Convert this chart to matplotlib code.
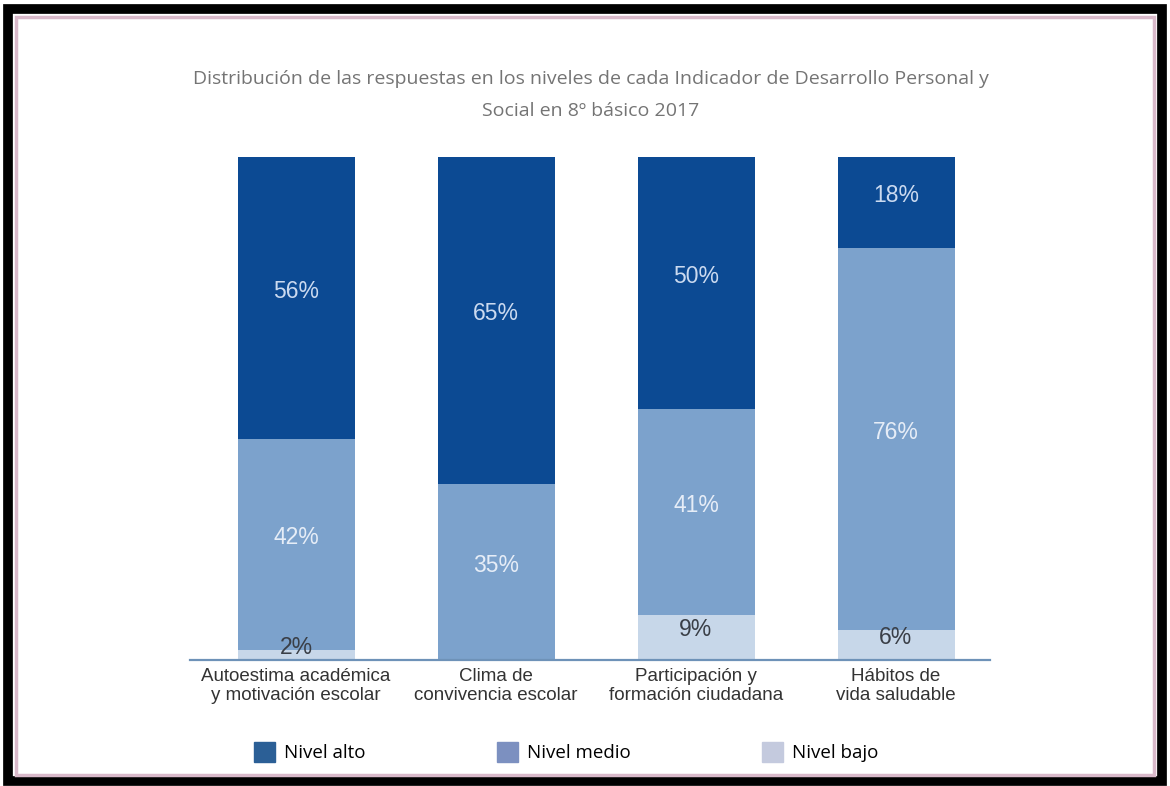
import matplotlib.pyplot as plt
from matplotlib.patches import Patch, Rectangle

categorias = ["Autoestima académica\ny motivación escolar",
              "Clima de\nconvivencia escolar",
              "Participación y\nformación ciudadana",
              "Hábitos de\nvida saludable"]
alto = [56, 65, 50, 18]
medio = [42, 35, 41, 76]
bajo = [2, 0, 9, 6]
niveles = ["Nivel alto", "Nivel medio", "Nivel bajo"]

c_alto = "#0c4a93"
c_medio = "#7ca2cc"
c_bajo = "#c7d7e9"

fig = plt.figure(figsize=(11.7, 7.86), dpi=100)
fig.patch.set_facecolor("white")

# marco negro + linea rosada
fig.patches.append(Rectangle((0.007, 0.006), 0.986, 0.982, transform=fig.transFigure,
                             fill=False, edgecolor="black", linewidth=7))
fig.patches.append(Rectangle((0.0135, 0.0135), 0.973, 0.965, transform=fig.transFigure,
                             fill=False, edgecolor="#d9b9ca", linewidth=2.5))

ax = fig.add_axes([190 / 1170, 1 - 660 / 786, 800 / 1170, 503 / 786])
x = range(len(categorias))
w = 0.585

# apilado de abajo hacia arriba: bajo, medio, alto
ax.bar(x, bajo, w, color=c_bajo)
ax.bar(x, medio, w, bottom=bajo, color=c_medio)
base2 = [b + m for b, m in zip(bajo, medio)]
ax.bar(x, alto, w, bottom=base2, color=c_alto)

for i in x:
    ax.text(i, base2[i] + alto[i] / 2 + 1.3, f"{alto[i]}%", ha="center", va="center",
            color="#cbdaf0", fontsize=16.5, family="Liberation Sans")
    ax.text(i, bajo[i] + medio[i] / 2 + 1.3, f"{medio[i]}%", ha="center", va="center",
            color="#e6edf7", fontsize=16.5, family="Liberation Sans")
    if bajo[i] > 0:
        ax.text(i, max(bajo[i] / 2 + 1.5, 2.5), f"{bajo[i]}%", ha="center", va="center",
                color="#3a3f47", fontsize=16.5, family="Liberation Sans")

ax.set_xlim(-0.53, 3.47)
ax.set_ylim(0, 100)
for s in ["top", "right", "left"]:
    ax.spines[s].set_visible(False)
ax.spines["bottom"].set_color("#6e92b8")
ax.spines["bottom"].set_linewidth(1.6)
ax.set_yticks([])
ax.set_xticks(list(x))
ax.set_xticklabels(categorias, fontsize=13.5, family="Liberation Sans", color="#333333",
                   linespacing=1.15)
ax.tick_params(axis="x", length=0, pad=6)

fig.text(0.505, 1 - 95 / 786,
         "Distribución de las respuestas en los niveles de cada Indicador de Desarrollo Personal y\n"
         "Social en 8º básico 2017",
         ha="center", va="center", fontsize=14, family="Open Sans", color="#747474",
         linespacing=2.05)

handles = [Patch(color="#2b5f96"), Patch(color="#7c90c0"), Patch(color="#c4cade")]
fig.legend(handles, niveles, loc="center", bbox_to_anchor=(0.484, 1 - 752 / 786),
           ncol=3, frameon=False, handlelength=1.1, handleheight=1.3, handletextpad=0.5,
           columnspacing=7.0, prop={"family": "Open Sans", "size": 13.5})

fig.savefig("out.png", dpi=100)
